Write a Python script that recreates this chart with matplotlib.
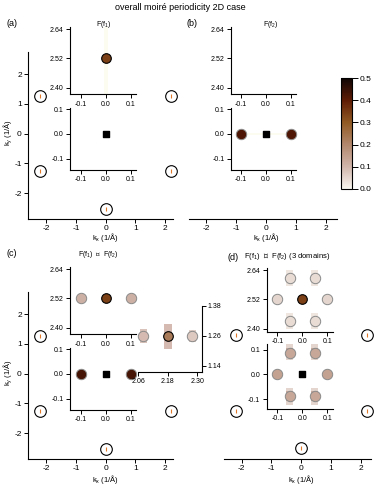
import matplotlib
matplotlib.use('Agg')
import matplotlib.pyplot as plt
import numpy as np
from matplotlib.colors import LinearSegmentedColormap, Normalize
from matplotlib.patches import Rectangle
import matplotlib.cm as cm

plt.rcParams['font.family'] = ['Liberation Sans', 'DejaVu Sans']
plt.rcParams['mathtext.default'] = 'regular'

# ---------------- data ----------------
lattice_kx = [-2.2, -2.2, 2.2, 2.2, 0.0, 0.0]
lattice_ky = [1.27, -1.27, 1.27, -1.27, 2.54, -2.54]
lattice_c_show = [True, True, False, True, True, True]

main_ticks = [-2, -1, 0, 1, 2]
inset_xticks = [-0.1, 0.0, 0.1]
inset_xlabels = ['-0.1', '0.0', '0.1']
top_yticks = [2.40, 2.52, 2.64]
top_ylabels = ['2.40', '2.52', '2.64']
low_yticks = [-0.1, 0.0, 0.1]
low_ylabels = ['-0.1', '0.0', '0.1']
zoom_xticks = [2.06, 2.18, 2.30]
zoom_xlabels = ['2.06', '2.18', '2.30']
zoom_yticks = [1.14, 1.26, 1.38]
zoom_ylabels = ['1.14', '1.26', '1.38']
cbar_ticks = [0.0, 0.1, 0.2, 0.3, 0.4, 0.5]
cbar_labels = ['0.0', '0.1', '0.2', '0.3', '0.4', '0.5']

a_top_x = [0.0]; a_top_y = [2.52]; a_top_v = [0.34]
b_low_x = [-0.1, 0.1]; b_low_y = [0.0, 0.0]; b_low_v = [0.42, 0.42]
c_top_x = [-0.1, 0.0, 0.1]; c_top_y = [2.52, 2.52, 2.52]; c_top_v = [0.11, 0.34, 0.11]
c_low_x = [-0.1, 0.1]; c_low_y = [0.0, 0.0]; c_low_v = [0.43, 0.43]
c_zoom_x = [2.08, 2.18, 2.28]; c_zoom_y = [1.26, 1.26, 1.26]; c_zoom_v = [0.09, 0.23, 0.07]
d_top_x = [0.0, -0.1, 0.1, -0.05, 0.05, -0.05, 0.05]
d_top_y = [2.52, 2.52, 2.52, 2.607, 2.607, 2.433, 2.433]
d_top_v = [0.34, 0.05, 0.05, 0.04, 0.04, 0.04, 0.04]
d_low_x = [-0.1, 0.1, -0.05, 0.05, -0.05, 0.05]
d_low_y = [0.0, 0.0, 0.087, 0.087, -0.087, -0.087]
d_low_v = [0.14, 0.14, 0.13, 0.13, 0.13, 0.13]

# intensity strips (x centre, y start, y end, value)
c_zoom_bar_x = [2.08, 2.18, 2.28]; c_zoom_bar_y0 = [1.232, 1.208, 1.235]
c_zoom_bar_y1 = [1.288, 1.308, 1.285]; c_zoom_bar_v = [0.08, 0.09, 0.06]
d_low_bar_x = [-0.05, 0.05, -0.05, 0.05, -0.05, 0.05, -0.05, 0.05]
d_low_bar_y0 = [0.056, 0.056, -0.125, -0.125, 0.068, 0.068, -0.108, -0.108]
d_low_bar_y1 = [0.125, 0.125, -0.056, -0.056, 0.108, 0.108, -0.068, -0.068]
d_low_bar_v = [0.05, 0.05, 0.05, 0.05, 0.12, 0.12, 0.12, 0.12]
d_top_bar_x = [-0.05, 0.05, -0.05, 0.05]
d_top_bar_y0 = [2.575, 2.575, 2.40, 2.40]
d_top_bar_y1 = [2.64, 2.64, 2.465, 2.465]
d_top_bar_v = [0.025, 0.025, 0.025, 0.025]

# ---------------- setup ----------------
W, H = 374, 484
fig = plt.figure(figsize=(W / 100, H / 100), dpi=100)

cmap = LinearSegmentedColormap.from_list('igor', [
    (0.0, (248/255, 246/255, 240/255)),
    (0.2, (208/255, 180/255, 170/255)),
    (0.4, (178/255, 135/255, 108/255)),
    (0.6, (145/255, 90/255, 35/255)),
    (0.8, (95/255, 28/255, 5/255)),
    (1.0, (15/255, 5/255, 5/255))])
norm = Normalize(0, 0.5)


def add_ax(x0, x1, y0, y1, xo, xs, yo, ys, xref=0.0, yref=0.0):
    """axes box in pixels; mapping px = xo + xs*(x-xref), py = yo - ys*(y-yref)"""
    ax = fig.add_axes([x0 / W, 1 - y1 / H, (x1 - x0) / W, (y1 - y0) / H])
    ax._lims = ((xref + (x0 - xo) / xs, xref + (x1 - xo) / xs),
                (yref + (yo - y1) / ys, yref + (yo - y0) / ys))
    for s in ax.spines.values():
        s.set_linewidth(0.8)
        s.set_visible(False)
    ax.tick_params(direction='out', length=3, width=0.7, pad=1.5, colors='black')
    return ax


def fix(ax):
    ax.set_xlim(*ax._lims[0])
    ax.set_ylim(*ax._lims[1])


def main_axes(x0, x1, y0, y1, xo, yo, left=True):
    ax = add_ax(x0, x1, y0, y1, xo, 29.8, yo, 29.7)
    ax.spines['bottom'].set_visible(True)
    ax.set_xticks(main_ticks)
    ax.set_xticklabels([str(t) for t in main_ticks], fontsize=6)
    if left:
        ax.spines['left'].set_visible(True)
        ax.set_yticks(main_ticks)
        ax.set_yticklabels([str(t) for t in main_ticks], fontsize=6)
    else:
        ax.set_yticks([])
    ax.patch.set_alpha(0)
    fix(ax)
    return ax


def inset(x0, x1, y0, y1, xo, yo, ys, kind):
    yref = 2.52 if kind == 'top' else 0.0
    ax = add_ax(x0, x1, y0, y1, xo, 250, yo, ys, 0.0, yref)
    ax.spines['left'].set_visible(True)
    ax.spines['bottom'].set_visible(True)
    ax.set_xticks(inset_xticks)
    ax.set_xticklabels(inset_xlabels, fontsize=5)
    if kind == 'top':
        ax.set_yticks(top_yticks)
        ax.set_yticklabels(top_ylabels, fontsize=5)
    else:
        ax.set_yticks(low_yticks)
        ax.set_yticklabels(low_ylabels, fontsize=5)
    ax.tick_params(length=3, pad=1.5)
    ax.set_facecolor('white')
    fix(ax)
    return ax


def lattice(ax, show):
    xs = [x for x, s in zip(lattice_kx, show) if s]
    ys = [y for y, s in zip(lattice_ky, show) if s]
    ax.scatter(xs, ys, s=70, facecolor='white', edgecolor='black', linewidths=0.8,
               zorder=3, clip_on=False)
    ax.scatter(xs, ys, s=5, marker='|', color='#e07a2a', linewidths=0.8, zorder=4,
               clip_on=False)


def spots(ax, xs, ys, vs, dark_edge=0.2):
    for x, y, v in zip(xs, ys, vs):
        c = cmap(norm(v))
        if v > dark_edge:
            ax.scatter([x], [y], s=48, facecolor=c, edgecolor='black', linewidths=0.8,
                       zorder=5, clip_on=False)
        else:
            ax.scatter([x], [y], s=56, facecolor=c, edgecolor='#8a8a8a', linewidths=0.7,
                       zorder=5, clip_on=False)


def bars(ax, xs, y0s, y1s, vs, w):
    for x, a, b, v in zip(xs, y0s, y1s, vs):
        ax.add_patch(Rectangle((x - w / 2, a), w, b - a, facecolor=cmap(norm(v)),
                               edgecolor='none', zorder=1))


def centre(ax):
    ax.scatter([0], [0], s=22, marker='s', color='black', zorder=6)


def ftext(x, y, s, size=6, **kw):
    fig.text(x / W, 1 - y / H, s, fontsize=size, **kw)


# ---------------- panel (a) ----------------
axa = main_axes(28, 173, 52, 219, 105.7, 133.7)
lattice(axa, [True] * 6)
a_t = inset(70, 136, 27, 94.3, 106, 58.3, 244, 'top')
a_t.add_patch(Rectangle((-0.008, 2.37), 0.016, 0.28, facecolor='#fdfcf1', edgecolor='none', zorder=1))
spots(a_t, a_top_x, a_top_y, a_top_v)
a_l = inset(70, 136, 108, 170, 106, 134, 248, 'low')
centre(a_l)

# ---------------- panel (b) ----------------
axb = main_axes(189, 337, 52, 219, 265.9, 133.7, left=False)
b_t = inset(230.7, 296, 27, 94.3, 265.7, 58.3, 244, 'top')
b_l = inset(230.7, 296, 108, 170, 265.7, 134, 248, 'low')
b_l.add_patch(Rectangle((-0.1, -0.006), 0.2, 0.012, facecolor='#fdfcf1', edgecolor='none', zorder=1))
spots(b_l, b_low_x, b_low_y, b_low_v, dark_edge=0.6)
centre(b_l)

# colorbar
cax = fig.add_axes([340.7 / W, 1 - 188.7 / H, 11 / W, 110.4 / H])
cb = fig.colorbar(cm.ScalarMappable(norm=norm, cmap=cmap), cax=cax, ticks=cbar_ticks)
cb.ax.set_yticklabels(cbar_labels, fontsize=6)
cb.outline.set_linewidth(0.8)
cb.ax.tick_params(length=4, width=0.7, pad=1.5)

# ---------------- panel (c) ----------------
axc = main_axes(28, 173, 292, 459, 105.7, 373.7)
lattice(axc, lattice_c_show)
c_t = inset(70, 136, 267, 334.3, 106, 298.3, 244, 'top')
spots(c_t, c_top_x, c_top_y, c_top_v)
c_l = inset(70, 136, 348, 410, 106, 374, 248, 'low')
spots(c_l, c_low_x, c_low_y, c_low_v, dark_edge=0.6)
centre(c_l)

# zoom inset near (2.2, 1.27)
cz = add_ax(138.3, 201.7, 306, 371.7, 138.3, 246, 336, 250, 2.06, 1.26)
cz.spines['bottom'].set_visible(True)
cz.spines['right'].set_visible(True)
cz.yaxis.tick_right()
cz.set_xticks(zoom_xticks); cz.set_xticklabels(zoom_xlabels, fontsize=5)
cz.set_yticks(zoom_yticks); cz.set_yticklabels(zoom_ylabels, fontsize=5)
cz.patch.set_alpha(0)
fix(cz)
bars(cz, c_zoom_bar_x, c_zoom_bar_y0, c_zoom_bar_y1, c_zoom_bar_v, 0.03)
spots(cz, c_zoom_x, c_zoom_y, c_zoom_v)

# ---------------- panel (d) ----------------
axd = main_axes(224, 370.7, 292, 459, 301.3, 373.0, left=False)
lattice(axd, [True] * 6)
d_t = inset(266.5, 333, 268, 332, 302.3, 299.3, 244, 'top')
bars(d_t, d_top_bar_x, d_top_bar_y0, d_top_bar_y1, d_top_bar_v, 0.028)
spots(d_t, d_top_x, d_top_y, d_top_v)
d_l = inset(266.5, 333, 344, 409, 302.3, 374.3, 248, 'low')
bars(d_l, d_low_bar_x, d_low_bar_y0, d_low_bar_y1, d_low_bar_v, 0.028)
spots(d_l, d_low_x, d_low_y, d_low_v)
centre(d_l)

# ---------------- texts ----------------
ftext(180, 8, 'overall moiré periodicity 2D case', 6.5, ha='center', va='center')
ftext(12, 24, '(a)', 6.5, ha='center', va='center')
ftext(104, 25, 'F(f$_1$)', 5, ha='center', va='center')
ftext(192, 24, '(b)', 6.5, ha='center', va='center')
ftext(271, 25, 'F(f$_2$)', 5, ha='center', va='center')
ftext(12, 254, '(c)', 6.5, ha='center', va='center')
ftext(98, 254, 'F(f$_1$)  ⊛  F(f$_2$)', 5, ha='center', va='center')
ftext(233, 257, '(d)', 6.5, ha='center', va='center')
ftext(287, 257, 'F(f$_1$)  ⊛  F(f$_2$) (3 domains)', 5.5, ha='center', va='center')
for x, y in [(105, 238), (266, 238), (105, 479), (301, 479)]:
    ftext(x, y, 'k$_x$ (1/Å)', 5.5, ha='center', va='center')
for y in [133, 373]:
    ftext(8, y, 'k$_y$ (1/Å)', 5.5, ha='center', va='center', rotation=90)

fig.savefig('out.png', dpi=100)
